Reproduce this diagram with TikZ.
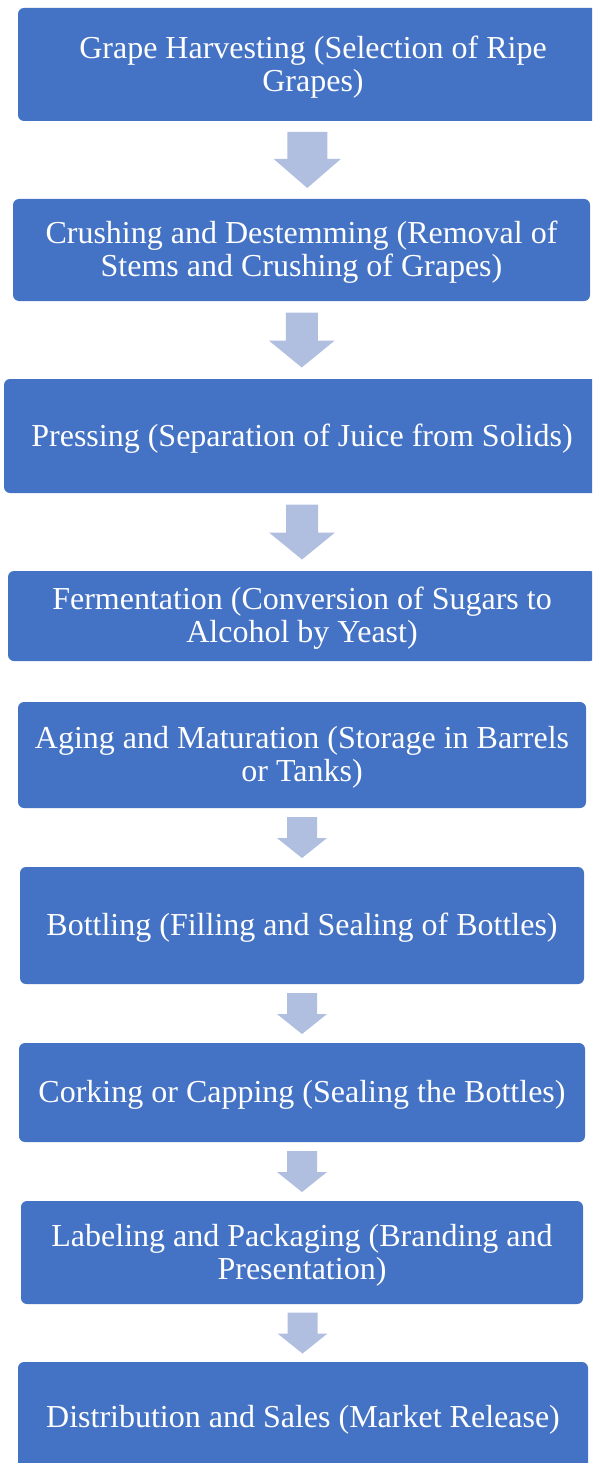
\documentclass[tikz,border=0pt]{standalone}
\usepackage{fontspec}
\setmainfont{Liberation Serif}
\usetikzlibrary{calc}
\definecolor{boxblue}{RGB}{68,114,196}
\definecolor{arrowfill}{RGB}{176,190,224}
\tikzset{
  stepbox/.style={fill=boxblue, rounded corners=6pt, inner sep=0pt},
  steptext/.style={text=white, font=\fontsize{32}{33}\selectfont,
    align=center, inner sep=0pt, yshift=-2.5pt},
}
% from, to, shaft half width, head half width, length, head length
\newcommand{\blockarrow}[6]{%
  \coordinate (m#1#2) at ($(#1.south)!0.5!(#2.north)$);
  \fill[arrowfill] ($(m#1#2)+(-#3,-#5/2)$) -- ($(m#1#2)+(#3,-#5/2)$)
    -- ($(m#1#2)+(#3,#5/2-#6)$) -- ($(m#1#2)+(#4,#5/2-#6)$)
    -- ($(m#1#2)+(0,#5/2)$) -- ($(m#1#2)+(-#4,#5/2-#6)$)
    -- ($(m#1#2)+(-#3,#5/2-#6)$) -- cycle;
}
\begin{document}
\begin{tikzpicture}[x=1pt,y=-1pt]
\useasboundingbox (0,0) rectangle (592,1463);
\clip (0,0) rectangle (592,1463);
\node[stepbox, minimum width=590pt, minimum height=113pt,
  label={[steptext]center:{Grape Harvesting (Selection of Ripe\\Grapes)}}] (b1) at (313,64.5) {};
\node[stepbox, minimum width=577pt, minimum height=102pt,
  label={[steptext]center:{Crushing and Destemming (Removal of\\Stems and Crushing of Grapes)}}] (b2) at (301.5,250) {};
\node[stepbox, minimum width=596pt, minimum height=114pt,
  label={[steptext]center:{Pressing (Separation of Juice from Solids)}}] (b3) at (302,436) {};
\node[stepbox, minimum width=588pt, minimum height=90pt,
  label={[steptext]center:{Fermentation (Conversion of Sugars to\\Alcohol by Yeast)}}] (b4) at (302,616) {};
\node[stepbox, minimum width=568pt, minimum height=106pt,
  label={[steptext]center:{Aging and Maturation (Storage in Barrels\\or Tanks)}}] (b5) at (302,755) {};
\node[stepbox, minimum width=564pt, minimum height=117pt,
  label={[steptext]center:{Bottling (Filling and Sealing of Bottles)}}] (b6) at (302,925.5) {};
\node[stepbox, minimum width=566pt, minimum height=99pt,
  label={[steptext]center:{Corking or Capping (Sealing the Bottles)}}] (b7) at (302,1092.5) {};
\node[stepbox, minimum width=562pt, minimum height=103pt,
  label={[steptext]center:{Labeling and Packaging (Branding and\\Presentation)}}] (b8) at (302,1252.5) {};
\node[stepbox, minimum width=570pt, minimum height=110pt,
  label={[steptext]center:{Distribution and Sales (Market Release)}}] (b9) at (303,1417) {};
\blockarrow{b1}{b2}{20}{33.5}{56}{29}
\blockarrow{b2}{b3}{16}{33}{55}{27}
\blockarrow{b3}{b4}{16}{33}{55}{27}
\blockarrow{b5}{b6}{15}{25}{41}{20}
\blockarrow{b6}{b7}{15}{25}{41}{20}
\blockarrow{b7}{b8}{15}{25}{41}{20}
\blockarrow{b8}{b9}{15}{25}{41}{20}
\end{tikzpicture}
\end{document}
